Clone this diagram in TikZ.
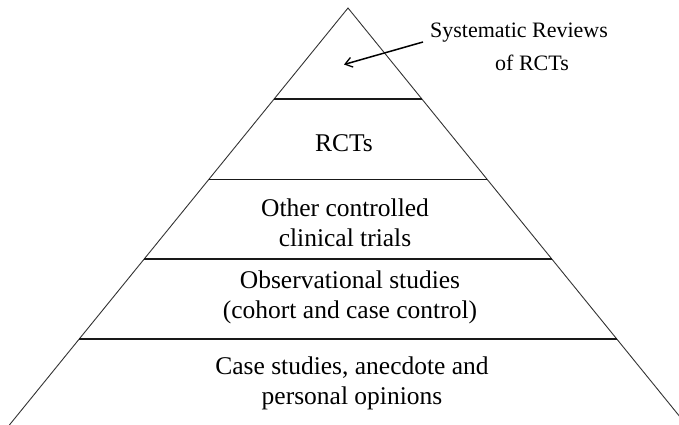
\documentclass[tikz,border=0pt]{standalone}
\usepackage{fontspec}
\setmainfont{Liberation Serif}
\usetikzlibrary{arrows.meta}
\begin{document}
\begin{tikzpicture}[x=1pt,y=-1pt,
  side/.style={line width=0.9pt,draw=black!80},
  divider/.style={line width=1.8pt,draw=black!90},
  tier/.style={align=center,inner sep=0pt,font=\fontsize{25.5}{30}\selectfont},
  callout/.style={align=center,inner sep=0pt,font=\fontsize{22}{33}\selectfont},
  pointer/.style={line width=1.5pt,-{Straight Barb[length=7pt,width=10pt,line width=1.3pt]}}]
  \useasboundingbox (0,0) rectangle (679,425);
  \clip (0,0) rectangle (679,425);
  % pyramid outline
  \coordinate (apex) at (348,8);
  \coordinate (baseL) at (9.4,425);
  \coordinate (baseR) at (686.6,425);
  \draw[side] (baseL) -- (apex) -- (baseR);
  % dividing levels
  \coordinate (d1L) at (274,99);   \coordinate (d1R) at (422,99);
  \coordinate (d2L) at (208.6,179.5); \coordinate (d2R) at (487.4,179.5);
  \coordinate (d3L) at (144,259);  \coordinate (d3R) at (552,259);
  \coordinate (d4L) at (79.0,339); \coordinate (d4R) at (617,339);
  \draw[divider] (d1L) -- (d1R);
  \draw[divider] (d2L) -- (d2R);
  \draw[divider] (d3L) -- (d3R);
  \draw[divider] (d4L) -- (d4R);
  % labels
  \node[callout] (top) at (519,47)
    {Systematic Reviews\\\hspace*{26pt}of RCTs};
  \node[tier] (rct) at (344,143) {RCTs};
  \node[tier] (occt) at (345,223) {Other controlled\\clinical trials};
  \node[tier] (obs) at (350,297) {Observational studies\\(cohort and case control)};
  \node[tier] (case) at (352,383.5) {Case studies, anecdote and\\personal opinions};
  % pointer into the apex
  \coordinate (arrowfrom) at (423,42);
  \coordinate (arrowto) at (344,64.5);
  \draw[pointer] (arrowfrom) -- (arrowto);
\end{tikzpicture}
\end{document}
